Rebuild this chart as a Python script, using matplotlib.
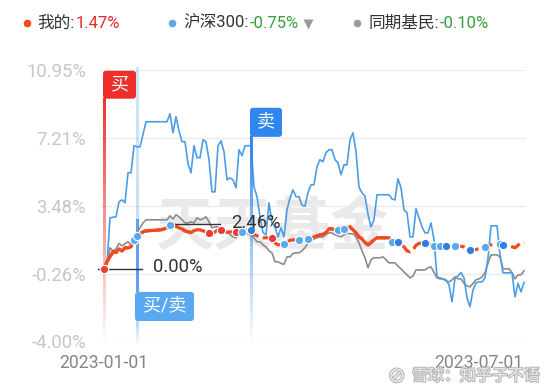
import numpy as np
import matplotlib
matplotlib.use("Agg")
import matplotlib.pyplot as plt
from matplotlib.patches import FancyBboxPatch
from matplotlib.lines import Line2D
from matplotlib.colors import to_rgb
import matplotlib.patheffects as pe

plt.rcParams['font.family'] = ['Roboto', 'Noto Sans CJK SC', 'DejaVu Sans']

# ---- data (trading-day index, cumulative return %) ----
hs300_days = [0, 1, 2, 3, 4, 5, 6, 7, 8, 9, 10, 11, 12, 13, 14, 21, 22, 23, 24, 25,
              26, 27, 28, 29, 30, 31, 32, 33, 34, 35, 36, 37, 38, 39, 40, 41, 42, 43, 44, 45,
              46, 47, 48, 49, 50, 51, 52, 53, 54, 55, 56, 57, 58, 59, 60, 61, 62, 63, 64, 65,
              66, 67, 68, 69, 70, 71, 72, 73, 74, 75, 76, 77, 78, 79, 80, 81, 82, 83, 84, 85,
              86, 87, 88, 89, 90, 91, 95, 96, 97, 98, 99, 100, 101, 102, 103, 104, 105, 106, 107, 108,
              109, 110, 111, 112, 113, 114, 115, 116, 117, 118, 119, 120, 121, 122, 123, 124, 125, 126, 127, 128,
              129, 130, 131, 132, 133, 136, 137, 138, 139, 140]
hs300_vals = [0.00, 0.28, 2.81, 2.84, 2.87, 3.69, 3.80, 3.64, 5.29, 5.29, 6.78, 6.72, 6.72, 7.40, 8.10, 8.10, 8.54, 7.49, 8.38, 7.60,
              7.00, 7.00, 5.79, 5.29, 6.78, 6.12, 6.12, 7.11, 7.00, 6.01, 4.24, 4.24, 6.78, 7.05, 6.45, 4.90, 5.01, 4.90, 4.46, 6.56,
              6.23, 6.78, 6.78, 6.78, 4.52, 3.97, 2.87, 2.00, 1.87, 3.64, 2.53, 2.31, 1.76, 2.26, 1.76, 3.25, 3.90, 4.35, 3.97, 3.97,
              3.50, 3.45, 4.20, 4.63, 4.63, 5.62, 6.01, 5.90, 6.40, 6.56, 6.56, 6.01, 5.84, 5.18, 5.73, 5.73, 7.11, 7.49, 6.45, 4.50,
              4.19, 4.00, 3.00, 2.31, 2.70, 4.08, 4.08, 3.85, 3.80, 4.96, 4.46, 3.25, 3.09, 1.76, 1.76, 3.31, 2.81, 2.31, 1.98, 1.98,
              2.53, 1.60, -0.44, -0.50, -0.55, -0.61, -0.88, -1.82, -0.50, -0.39, -0.20, -0.50, -1.60, -2.09, -1.16, -0.77, -0.72, -0.72, -0.50, 0.60,
              2.37, 2.37, 2.37, 0.80, -0.22, -0.22, -1.54, -0.80, -1.27, -0.75]

peer_days = list(range(0, 15)) + list(range(21, 141))
peer_vals = [0.00, 0.33, 1.16, 0.99, 1.10, 1.40, 1.27, 1.38, 1.49, 1.32, 1.70, 2.00, 2.26, 2.53, 2.70,
             2.70, 2.92, 2.75, 2.98, 2.87, 2.70, 2.53, 2.53, 2.59, 2.53, 2.81, 2.70, 2.75, 2.87, 2.59,
             2.26, 2.31, 2.31, 2.20, 2.20, 2.04, 1.90, 1.76, 1.71, 1.90, 2.04, 1.98, 1.93, 1.87, 1.70,
             1.49, 1.49, 1.32, 1.21, 1.00, 0.88, 0.39, 0.39, 0.30, 0.25, 0.66, 0.66, 0.85, 0.88, 0.88,
             1.00, 1.16, 1.43, 1.49, 1.65, 1.71, 1.76, 1.76, 1.90, 1.98, 1.98, 1.87, 1.82, 1.76, 1.87,
             1.98, 1.93, 1.93, 1.75, 1.43, 0.99, 0.61, 0.06, 0.50, 0.61, 0.61, 0.61, 0.66, 0.50, 0.33,
             0.33, 0.33, 0.15, 0.00, -0.17, -0.33, -0.50, -0.39, -0.06, -0.06, -0.06, -0.06, 0.06, 0.11, -0.20,
             -0.50, -0.55, -0.55, -0.66, -0.72, -0.61, -0.44, -0.55, -0.55, -0.80, -0.94, -0.99, -0.80, -0.60, -0.55,
             -0.44, -0.20, 0.30, 0.77, 0.77, 0.77, 0.66, 0.00, 0.00, 0.00, -0.20, -0.55, -0.33, -0.33, -0.10]

mine_days = [0, 1, 2, 3, 4, 5, 6, 7, 8, 9, 10, 11, 12, 13, 14, 19, 20, 21, 22, 23,
             24, 25, 26, 27, 28, 29, 30, 31, 32, 33, 34, 35, 36, 37, 38, 39, 40, 41, 42, 43,
             44, 45, 46, 47, 48, 49, 50, 51, 52, 53, 54, 55, 56, 57, 58, 59, 60, 61, 62, 63,
             64, 65, 66, 67, 68, 69, 70, 71, 72, 73, 74, 75, 76, 77, 78, 79, 80, 81, 82, 83,
             84, 85, 86, 87, 88, 89, 90, 91, 95, 96, 98, 99, 100, 101, 102, 103, 104, 105, 106, 108,
             110, 111, 113, 117, 119, 120, 121, 122, 124, 125, 127, 129, 131, 133, 135, 137, 138, 139, 140]
mine_vals = [0.00, 0.39, 0.66, 0.94, 0.90, 1.10, 0.99, 1.16, 1.16, 1.21, 1.60, 1.82, 1.93, 2.04, 2.09, 2.15, 2.20, 2.26, 2.40, 2.46,
             2.35, 2.26, 2.20, 2.09, 2.04, 2.00, 2.10, 2.15, 2.15, 2.09, 2.04, 1.98, 1.93, 2.04, 2.15, 2.12, 2.09, 2.00, 2.04, 2.04,
             2.04, 2.04, 2.04, 2.10, 2.15, 2.15, 1.90, 1.82, 1.76, 1.71, 1.71, 1.71, 1.71, 1.43, 1.32, 1.35, 1.38, 1.49, 1.57, 1.60,
             1.57, 1.57, 1.60, 1.62, 1.65, 1.71, 1.76, 1.82, 1.87, 1.90, 2.00, 2.20, 2.20, 2.15, 2.15, 2.15, 2.20, 2.26, 2.31, 2.15,
             1.98, 1.76, 1.65, 1.45, 1.32, 1.45, 1.60, 1.71, 1.71, 1.49, 1.49, 1.35, 1.21, 0.99, 0.94, 1.05, 1.30, 1.40, 1.43, 1.38,
             1.27, 1.21, 1.27, 1.27, 1.24, 1.21, 1.10, 1.05, 1.05, 1.16, 1.21, 1.32, 1.38, 1.32, 1.27, 1.16, 1.30, 1.43, 1.47]

buy_days = [0, 35, 39, 44, 56]
sell_days = [10, 11, 22, 46, 60, 65, 68, 78, 80, 96, 110, 112, 117, 127, 132]
sell_days_dark = [49, 98, 107, 114, 122, 133]

event_buy, event_both, event_sell = 0, 11, 49

yticks = [-4.00, -0.26, 3.48, 7.21, 10.95]
xtick_days = [0, 125]
xtick_labels = ['2023-01-01', '2023-07-01']

legend_names = ['我的:', '沪深300:', '同期基民:']
legend_values = ['1.47%', '-0.75%', '-0.10%']

RED = '#f04a1e'
BLUE = '#4c9de8'
GREY = '#8c8c8c'

W, H = 557, 392
fig = plt.figure(figsize=(W / 100, H / 100), dpi=100)
fig.patch.set_facecolor('white')
ax = fig.add_axes([100 / W, (H - 341.5) / H, 426 / W, 271.5 / H])
XL, YL = (-4 / 3, 422 / 3), (-4.00, 10.95)
for s in ax.spines.values():
    s.set_visible(False)
ax.set_yticks(yticks)
ax.set_yticklabels([f'{v:.2f}%' for v in yticks])
ax.set_xticks(xtick_days)
ax.set_xticklabels(xtick_labels)
ax.tick_params(axis='y', length=0, pad=10, labelsize=13.3, labelcolor='#c6c6c6')
ax.tick_params(axis='x', length=0, pad=9, labelsize=12.7, labelcolor='#858585')
ax.grid(axis='y', color='#ececec', lw=1)
ax.grid(axis='x', visible=False)
ax.set_axisbelow(True)

# watermark
ax.text(56, 2.26, '天天基金', ha='center', va='center', fontsize=42, fontweight='bold',
        color='#e9e9e9', family='Noto Sans CJK SC', zorder=0.5)

ax.plot(peer_days, peer_vals, color=GREY, lw=1.2, zorder=2)
ax.plot(hs300_days, hs300_vals, color=BLUE, lw=1.2, zorder=2)

md = np.array(mine_days)
mv = np.array(mine_vals)
seg1 = md <= 30
seg2 = (md >= 66) & (md <= 97)
ax.plot(md, mv, color=RED, lw=2.3, ls=(0, (3.2, 1.4)), zorder=3)
ax.plot(md[seg1], mv[seg1], color=RED, lw=2.3, zorder=3)
ax.plot(md[seg2], mv[seg2], color=RED, lw=2.3, zorder=3)


def vgrad(x, y_top, y_bot, color, a_top, a_bot, z=4, n=200):
    rgba = np.zeros((n, 1, 4))
    rgba[:, 0, :3] = to_rgb(color)
    rgba[:, 0, 3] = np.linspace(a_top, a_bot, n)
    im = ax.imshow(rgba, extent=(x - 0.5, x + 0.5, y_bot, y_top), origin='upper',
                   aspect='auto', interpolation='bilinear', zorder=z)
    im.set_clip_on(False)


vgrad(event_buy, 9.37, -4.2, '#ee3030', 1.0, 0.0)
vgrad(event_both, 11.08, 2.7, '#5aa8f0', 0.3, 0.35)
vgrad(event_both, 2.7, -1.27, '#4a98ea', 0.9, 0.9)
vgrad(event_both, -2.87, -4.2, '#5aa8f0', 0.5, 0.0)
vgrad(event_sell, 7.27, -4.2, '#2f86ee', 1.0, 0.0)

ax.scatter(buy_days, np.interp(buy_days, md, mv), s=36, color='#ee3a3a',
           edgecolor='white', lw=0.8, zorder=6, clip_on=False)
ax.scatter(sell_days, np.interp(sell_days, md, mv), s=36, color='#5aa8f0',
           edgecolor='white', lw=0.8, zorder=6)
ax.scatter(sell_days_dark, np.interp(sell_days_dark, md, mv), s=36, color='#2e7fe6',
           edgecolor='white', lw=0.8, zorder=6)

aspect = 3 * 0.0551


def tag(x0, x1, y0, y1, color, label):
    box = FancyBboxPatch((x0, y0), x1 - x0, y1 - y0,
                         boxstyle='round,pad=0,rounding_size=1.0', mutation_aspect=aspect,
                         fc=color, ec='none', zorder=7, clip_on=False)
    ax.add_patch(box)
    ax.text((x0 + x1) / 2, (y0 + y1) / 2, label, ha='center', va='center', color='white',
            fontsize=13, zorder=8, clip_on=False)


tag(-0.33, 10.67, 9.37, 10.91, '#ef2f2a', '买')
tag(48.67, 59.33, 7.27, 8.87, '#2f86ee', '卖')
tag(10.33, 30.0, -2.87, -1.27, '#5aa8f0', '买/卖')

# min / max annotations
ax.plot([-2, 12.67], [0.0, 0.0], color='#333333', lw=1, zorder=5, clip_on=False)
ax.text(16.3, 0.1, '0.00%', ha='left', va='center', fontsize=13.3, color='#333333', zorder=8)
ax.plot([23, 38.67], [2.46, 2.46], color='#333333', lw=1, zorder=5)
ax.text(42.3, 2.55, '2.46%', ha='left', va='center', fontsize=13.3, color='#333333', zorder=8)

ax.set_xlim(*XL)
ax.set_ylim(*YL)


# legend
def fdot(x, y, color, marker='o', ms=5.5):
    fig.add_artist(Line2D([x / W], [1 - y / H], marker=marker, ms=ms, color=color,
                          mec='none', transform=fig.transFigure))


def legend_item(x, name, value, vcolor):
    t = fig.text(x / W, 1 - 23 / H, name, va='center', ha='left', fontsize=12, color='#333333')
    ax.annotate(value, xy=(1, 0.5), xycoords=t, xytext=(1, 0), textcoords='offset points',
                va='center', ha='left', fontsize=12, color=vcolor, annotation_clip=False)


fdot(27, 23, RED)
legend_item(37, legend_names[0], legend_values[0], '#e02b2b')
fdot(172, 23, '#5aa8f0')
legend_item(183, legend_names[1], legend_values[1], '#3a9e3a')
fdot(308, 24, '#9a9a9a', marker='v', ms=7)
fdot(357, 23, '#9a9a9a')
legend_item(368, legend_names[2], legend_values[2], '#3a9e3a')

# bottom-right source watermark
wm = [pe.withStroke(linewidth=1.5, foreground='#b4b4b4')]
fig.text(388 / W, 1 - 376 / H, '⊘', va='center', ha='left', fontsize=15, color='#ededed',
         family='DejaVu Sans', path_effects=wm)
fig.text(412 / W, 1 - 376 / H, '雪球：知乎子不语', va='center', ha='left', fontsize=11.5,
         color='#ededed', path_effects=wm)

fig.savefig('out.png', dpi=100, facecolor='white')
